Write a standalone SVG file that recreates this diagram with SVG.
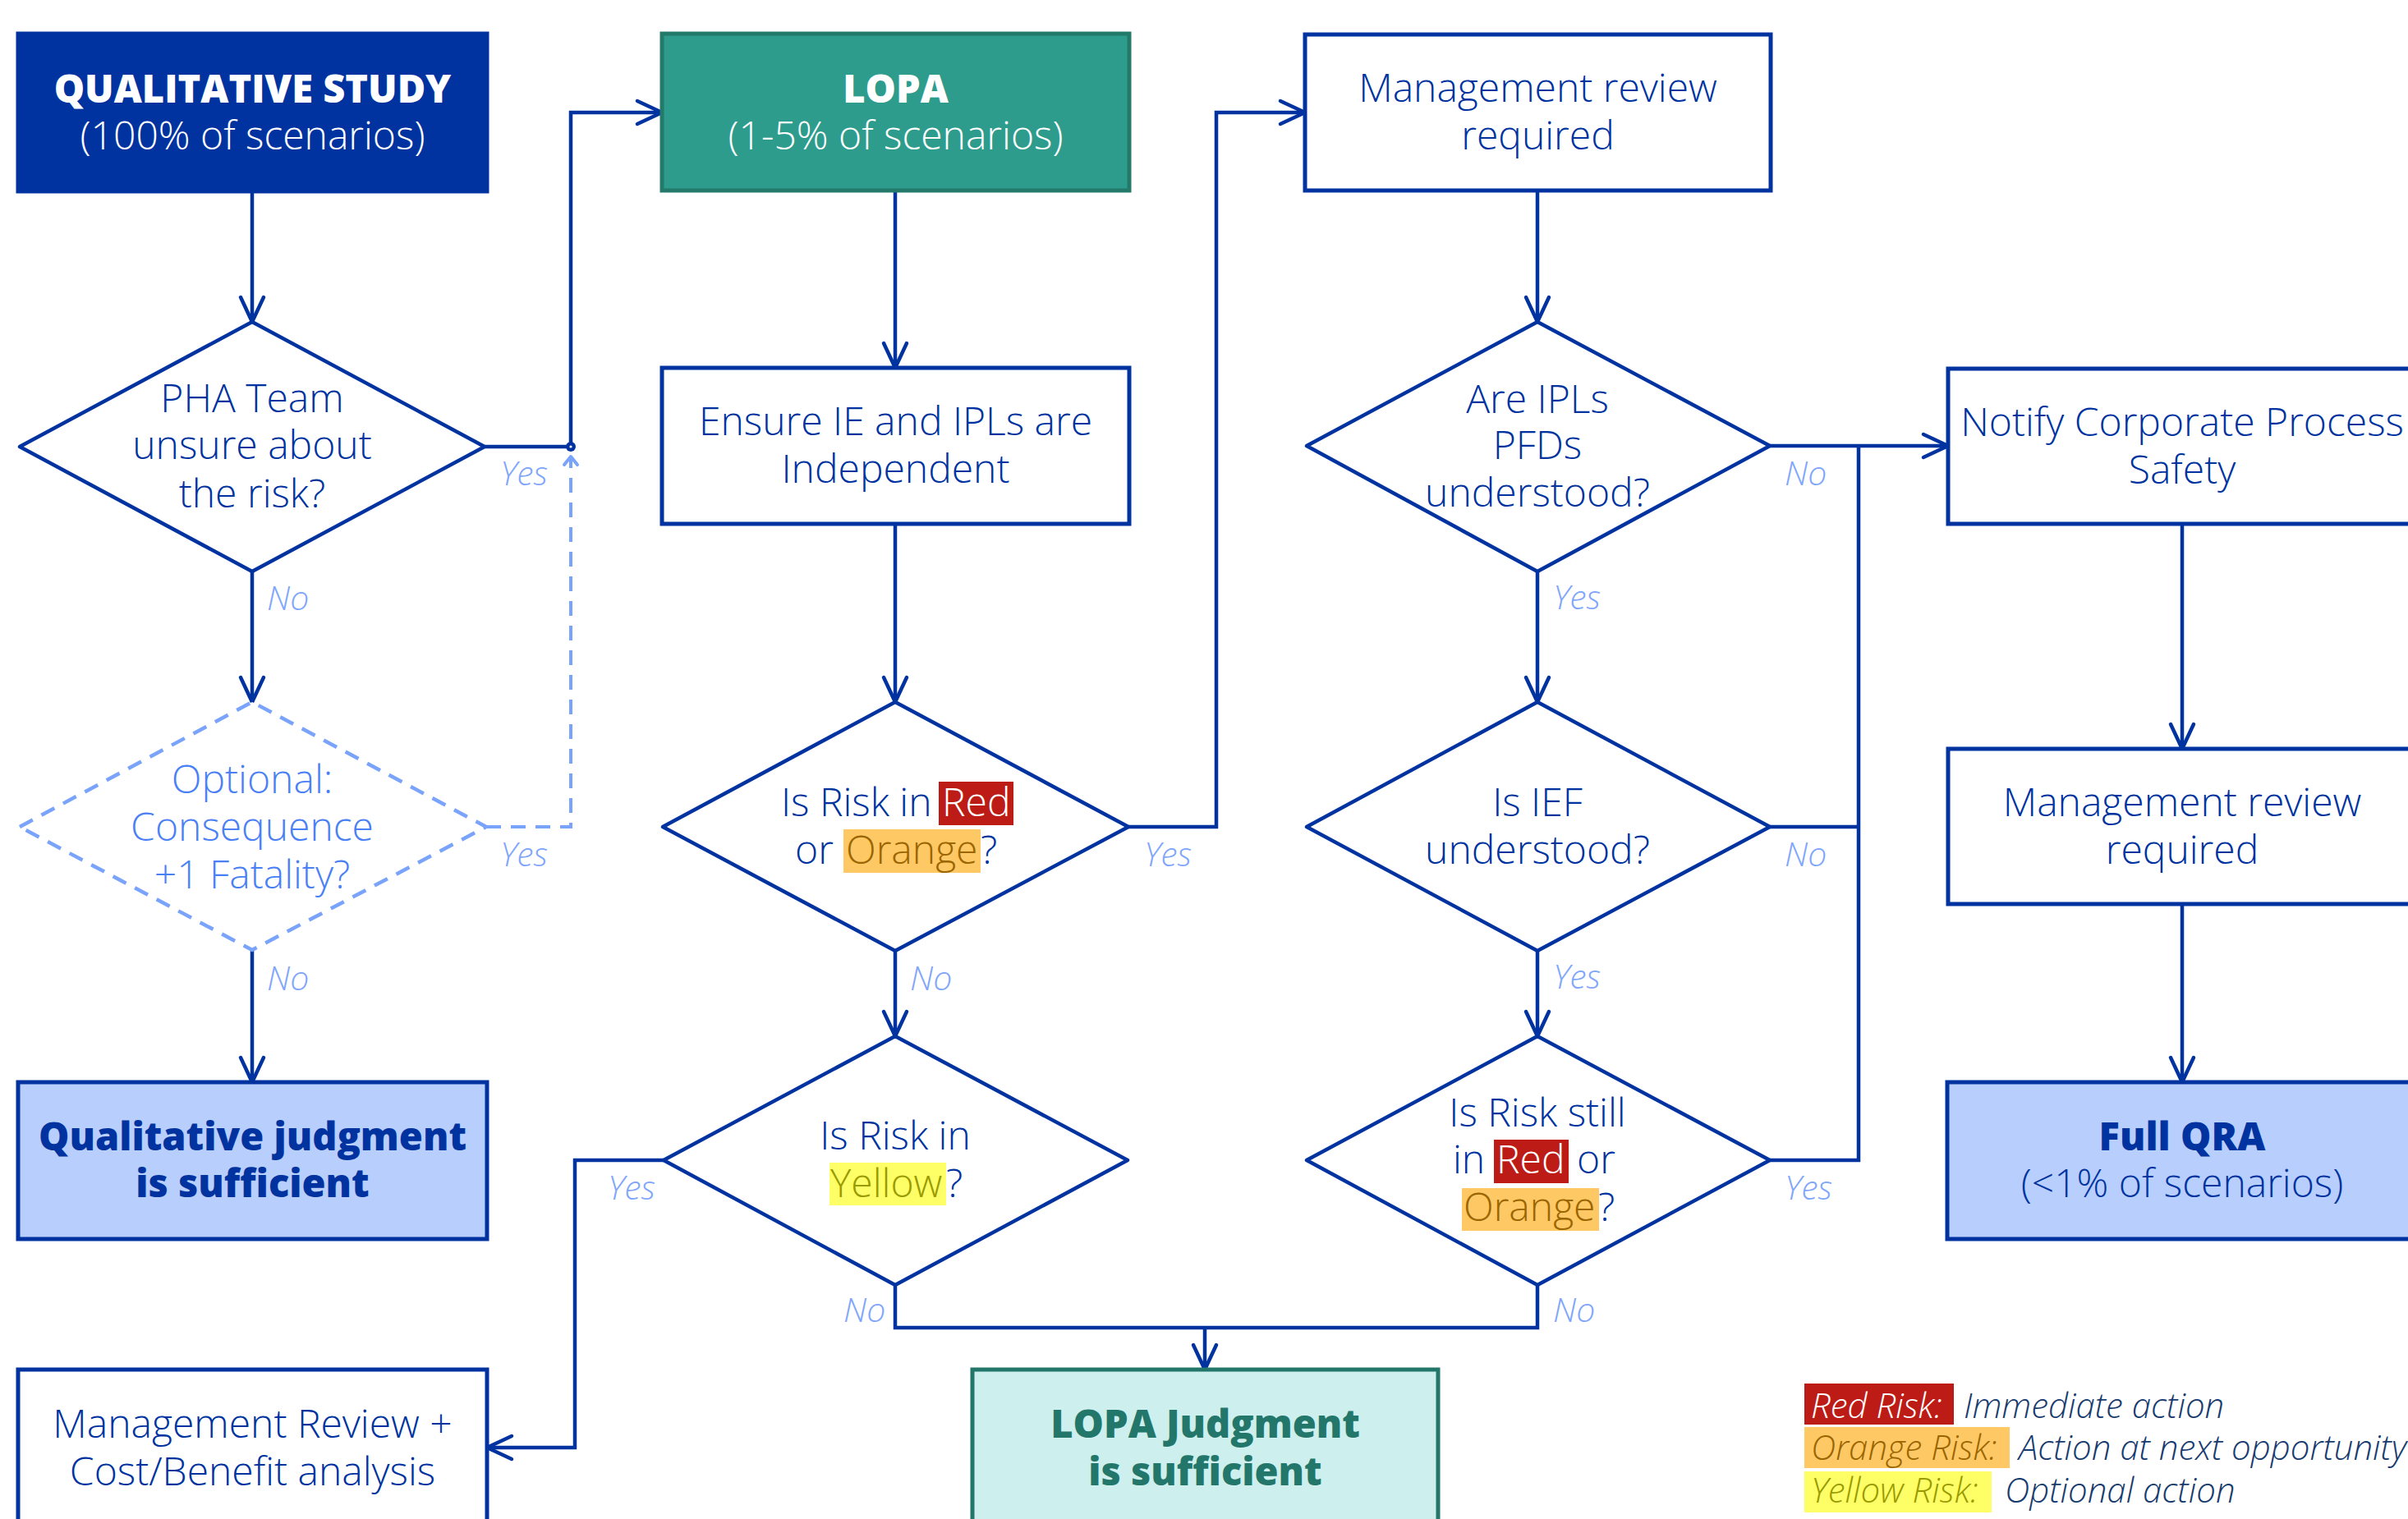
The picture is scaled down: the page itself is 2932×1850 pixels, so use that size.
<svg xmlns="http://www.w3.org/2000/svg" width="2932" height="1850" viewBox="0 0 2932 1850">
<style>
text{font-family:"Open Sans","Liberation Sans",sans-serif;}
.t{font-size:48px;font-weight:300;fill:#0033a0;text-anchor:middle;}
.tw{font-size:48px;font-weight:300;fill:#ffffff;text-anchor:middle;}
.bw{font-size:47px;font-weight:800;fill:#ffffff;text-anchor:middle;}
.bn{font-size:47px;font-weight:800;fill:#0033a0;text-anchor:middle;}
.bt{font-size:47px;font-weight:800;fill:#23766a;text-anchor:middle;}
.ts{font-size:48px;font-weight:300;fill:#0033a0;}
.box{fill:#ffffff;stroke:#0033a0;stroke-width:5;}
.dia{fill:#ffffff;stroke:#0033a0;stroke-width:4.5;stroke-linejoin:round;}
.ln{fill:none;stroke:#0033a0;stroke-width:4.5;stroke-linejoin:miter;}
.arr{marker-end:url(#ah);}
.lbl{font-size:41px;font-weight:300;font-style:italic;fill:#7fa6fb;}
.lg{font-size:42px;font-weight:300;font-style:italic;}
</style>
<defs>
<marker id="ah" markerUnits="userSpaceOnUse" viewBox="-34 -18 38 36" markerWidth="38" markerHeight="36" refX="0" refY="0" orient="auto" overflow="visible">
<path d="M-30,-14 L0,0 L-30,14" fill="none" stroke="#0033a0" stroke-width="4.5" stroke-linecap="round" stroke-linejoin="round"/>
</marker>
<marker id="ahs" markerUnits="userSpaceOnUse" viewBox="-14 -10 18 20" markerWidth="18" markerHeight="20" refX="0" refY="0" orient="auto" overflow="visible">
<path d="M-10,-8 L0,0 L-10,8" fill="none" stroke="#7aa3fb" stroke-width="4" stroke-linecap="round" stroke-linejoin="round"/>
</marker>
</defs>
<rect width="2932" height="1850" fill="#ffffff"/>

<g id="connectors">
<path class="ln arr" d="M307,233 V392"/>
<path class="ln arr" d="M590,544 H695 V137 H806"/>
<path class="ln arr" d="M307,696 V855"/>
<path d="M592,1007 H695 V556" fill="none" stroke="#7aa3fb" stroke-width="4" stroke-dasharray="18 12" marker-end="url(#ahs)"/>
<circle cx="695" cy="544" r="6" fill="#0033a0"/>
<circle cx="695" cy="544" r="1.6" fill="#ffffff"/>
<path class="ln arr" d="M307,1157 V1318"/>
<path class="ln arr" d="M1090,232 V448"/>
<path class="ln arr" d="M1090,638 V855"/>
<path class="ln arr" d="M1374,1007 H1481 V137 H1589"/>
<path class="ln arr" d="M1090,1158 V1262"/>
<path class="ln arr" d="M808,1413 H700 V1763 H593"/>
<path class="ln" d="M1090,1565 V1617 H1872 V1565"/>
<path class="ln arr" d="M1467,1617 V1668"/>
<path class="ln arr" d="M1872,232 V392"/>
<path class="ln arr" d="M2155,543 H2372"/>
<path class="ln arr" d="M1872,696 V855"/>
<path class="ln" d="M2155,1007 H2263"/>
<path class="ln" d="M2155,1413 H2263 V543"/>
<path class="ln arr" d="M1872,1158 V1262"/>
<path class="ln arr" d="M2657,638 V912"/>
<path class="ln arr" d="M2657,1101 V1318"/>
<text class="lbl" x="609" y="591">Yes</text>
<text class="lbl" x="325" y="743">No</text>
<text class="lbl" x="609" y="1055">Yes</text>
<text class="lbl" x="325" y="1206">No</text>
<text class="lbl" x="1393" y="1055">Yes</text>
<text class="lbl" x="1108" y="1206">No</text>
<text class="lbl" x="740" y="1461">Yes</text>
<text class="lbl" x="1027" y="1610">No</text>
<text class="lbl" x="2173" y="591">No</text>
<text class="lbl" x="1891" y="742">Yes</text>
<text class="lbl" x="2173" y="1055">No</text>
<text class="lbl" x="1891" y="1204">Yes</text>
<text class="lbl" x="2173" y="1461">Yes</text>
<text class="lbl" x="1891" y="1610">No</text>
</g>

<g id="qualitative-study">
<rect x="22" y="41" width="571" height="192" fill="#0033a0" stroke="#0033a0" stroke-width="5"/>
<text class="bw" x="307.5" y="125">QUALITATIVE STUDY</text>
<text class="tw" x="307.5" y="182">(100% of scenarios)</text>
</g>

<g id="lopa">
<rect x="806" y="41" width="569" height="191" fill="#2e9c8c" stroke="#23796a" stroke-width="5"/>
<text class="bw" x="1090.5" y="125">LOPA</text>
<text class="tw" x="1090.5" y="182">(1-5% of scenarios)</text>
</g>

<g id="mgmt-review-1">
<rect class="box" x="1589" y="42" width="567" height="190"/>
<text class="t" x="1872.5" y="124">Management review</text>
<text class="t" x="1872.5" y="182">required</text>
</g>

<g id="pha-team">
<polygon class="dia" points="24,544 307,392 590,544 307,696"/>
<text class="t" x="307" y="502">PHA Team</text>
<text class="t" x="307" y="559">unsure about</text>
<text class="t" x="307" y="618">the risk?</text>
</g>

<g id="ensure-independent">
<rect class="box" x="806" y="448" width="569" height="190"/>
<text class="t" x="1090.5" y="530">Ensure IE and IPLs are</text>
<text class="t" x="1090.5" y="588">Independent</text>
</g>

<g id="notify-corporate">
<rect class="box" x="2372" y="449" width="571" height="189"/>
<text class="t" x="2657" y="531">Notify Corporate Process</text>
<text class="t" x="2657" y="589">Safety</text>
</g>

<g id="are-ipls">
<polygon class="dia" points="1591,543 1872,392 2155,543 1872,696"/>
<text class="t" x="1872" y="503">Are IPLs</text>
<text class="t" x="1872" y="559">PFDs</text>
<text class="t" x="1872" y="617">understood?</text>
</g>

<g id="optional-consequence">
<polygon points="24,1007 307,855 592,1007 307,1157" fill="#ffffff" stroke="#7aa3fb" stroke-width="4.5" stroke-dasharray="18 12"/>
<text class="t" x="307" y="966" style="fill:#4a80f5">Optional:</text>
<text class="t" x="307" y="1024" style="fill:#4a80f5">Consequence</text>
<text class="t" x="307" y="1082" style="fill:#4a80f5">+1 Fatality?</text>
</g>

<g id="risk-red-orange">
<polygon class="dia" points="807,1007 1090,855 1374,1007 1090,1158"/>
<rect x="1143" y="952" width="91" height="53" fill="#bd1c16"/>
<rect x="1027" y="1010" width="167" height="53" fill="#fec965"/>
<text class="ts" x="951" y="994">Is Risk in</text>
<text class="ts" x="1147" y="994" style="fill:#ffffff">Red</text>
<text class="ts" x="968" y="1052">or</text>
<text class="ts" x="1030" y="1052" style="fill:#9b6500">Orange</text>
<text class="ts" x="1194" y="1052">?</text>
</g>

<g id="is-ief">
<polygon class="dia" points="1591,1007 1872,855 2155,1007 1872,1158"/>
<text class="t" x="1872" y="994">Is IEF</text>
<text class="t" x="1872" y="1052">understood?</text>
</g>

<g id="mgmt-review-2">
<rect class="box" x="2372" y="912" width="571" height="189"/>
<text class="t" x="2657" y="994">Management review</text>
<text class="t" x="2657" y="1052">required</text>
</g>

<g id="qualitative-judgment">
<rect x="22" y="1318" width="571" height="191" fill="#b8cefc" stroke="#0033a0" stroke-width="5"/>
<text class="bn" x="307.5" y="1401">Qualitative judgment</text>
<text class="bn" x="307.5" y="1458">is sufficient</text>
</g>

<g id="risk-yellow">
<polygon class="dia" points="808,1413 1090,1262 1373,1413 1090,1565"/>
<text class="t" x="1090" y="1400">Is Risk in</text>
<rect x="1010" y="1416" width="142" height="52" fill="#fefe66"/>
<text class="ts" x="1011" y="1458" style="fill:#999a00">Yellow</text>
<text class="ts" x="1152" y="1458">?</text>
</g>

<g id="risk-still">
<polygon class="dia" points="1591,1413 1872,1262 2155,1413 1872,1565"/>
<text class="t" x="1872" y="1372">Is Risk still</text>
<rect x="1819" y="1388" width="91" height="53" fill="#bd1c16"/>
<text class="ts" x="1769" y="1429">in</text>
<text class="ts" x="1822" y="1429" style="fill:#ffffff">Red</text>
<text class="ts" x="1920" y="1429">or</text>
<rect x="1780" y="1447" width="167" height="52" fill="#fec965"/>
<text class="ts" x="1782" y="1487" style="fill:#9b6500">Orange</text>
<text class="ts" x="1946" y="1487">?</text>
</g>

<g id="full-qra">
<rect x="2371" y="1318" width="572" height="191" fill="#b8cefc" stroke="#0033a0" stroke-width="5"/>
<text class="bn" x="2657" y="1401">Full QRA</text>
<text class="t" x="2657" y="1458">(&lt;1% of scenarios)</text>
</g>

<g id="mgmt-cost-benefit">
<rect class="box" x="22" y="1668" width="571" height="191"/>
<text class="t" x="307.5" y="1751">Management Review +</text>
<text class="t" x="307.5" y="1809">Cost/Benefit analysis</text>
</g>

<g id="lopa-judgment">
<rect x="1184" y="1668" width="567" height="191" fill="#cdefed" stroke="#23766a" stroke-width="5"/>
<text class="bt" x="1467.5" y="1751">LOPA Judgment</text>
<text class="bt" x="1467.5" y="1809">is sufficient</text>
</g>

<g id="legend">
<rect x="2197" y="1685" width="182" height="50" fill="#bd1c16"/>
<rect x="2197" y="1738" width="250" height="50" fill="#fec965"/>
<rect x="2197" y="1792" width="228" height="50" fill="#fefe66"/>
<text class="lg" x="2205" y="1727" fill="#ffffff">Red Risk:</text>
<text class="lg" x="2391" y="1727" fill="#173b6e">Immediate action</text>
<text class="lg" x="2205" y="1778" fill="#9b6500">Orange Risk:</text>
<text class="lg" x="2458" y="1778" fill="#173b6e">Action at next opportunity</text>
<text class="lg" x="2205" y="1830" fill="#999a00">Yellow Risk:</text>
<text class="lg" x="2441" y="1830" fill="#173b6e">Optional action</text>
</g>
</svg>
